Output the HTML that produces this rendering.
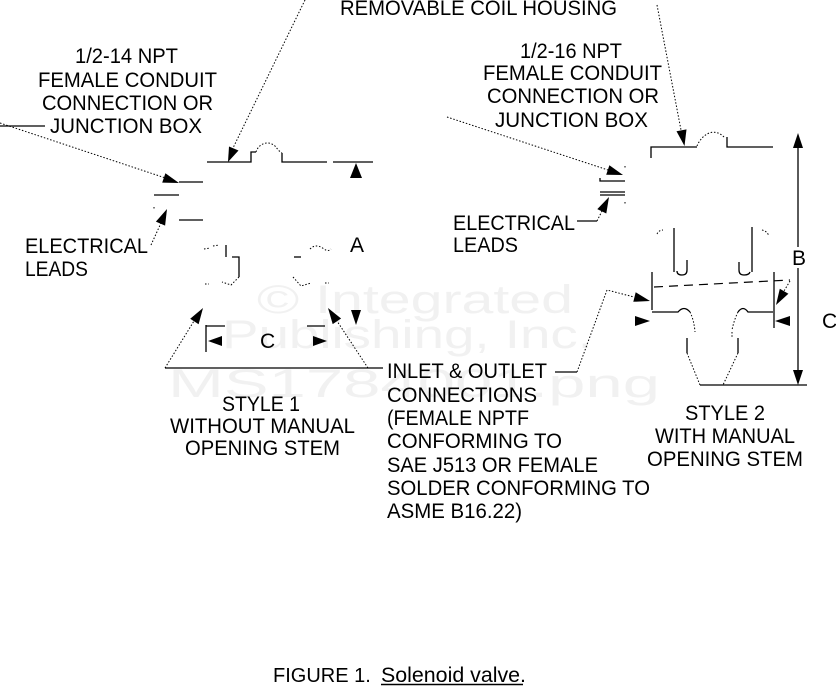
<!DOCTYPE html>
<html><head><meta charset="utf-8">
<style>
html,body{margin:0;padding:0;background:#fff;}
svg{display:block;}
.t{font-family:"Liberation Sans",Arial,Helvetica,sans-serif;}
</style></head><body>
<svg width="836" height="687" viewBox="0 0 836 687" xmlns="http://www.w3.org/2000/svg">
<rect width="836" height="687" fill="#fff"/>

<!-- watermark -->
<g class="t" fill="#f1f1f1" font-size="40">
<text x="257" y="313" textLength="316" lengthAdjust="spacingAndGlyphs">© Integrated</text>
<text x="222" y="348" textLength="371" lengthAdjust="spacingAndGlyphs">Publishing, Inc.</text>
<text x="168" y="397" textLength="492" lengthAdjust="spacingAndGlyphs">MS1784001.png</text>
</g>

<!-- solid lines -->
<g stroke="#000" stroke-width="1.3" fill="none">
<path d="M0,126H45"/>
<path d="M179,182H203"/>
<path d="M154,195H179"/>
<path d="M179,220H203"/>
<path d="M207,162H251V152H256"/>
<path d="M282,153V162H327"/>
<path d="M333,162H373"/>
<path d="M226,245V257"/>
<path d="M232,257H239V277"/>
<path d="M294,257H301"/>
<path d="M165,368H383"/>
<path d="M206,325V352"/>
<path d="M206,326H225"/>
<path d="M307,326H325"/>
<path d="M555,372H577"/>

<path d="M577,221H597"/>
<path d="M600,178V181H625"/>
<path d="M600,192H625"/>
<path d="M600,195H625"/>
<path d="M651,158V147H697"/>
<path d="M727,137V147H773"/>
<path d="M798,147V247"/>
<path d="M798,268V370"/>
<path d="M700,385H807"/>
<path d="M674,228V272"/>
<path d="M687,260V270Q687,275 682,275Q677,275 677,271"/>
<path d="M752,227V272"/>
<path d="M739,262V270Q739,275 744,275Q749,275 750,272"/>
<path d="M652,272V310"/>
<path d="M774,272V328"/>
<path d="M652,312H678Q684,305 690,312"/>
<path d="M738,312Q743,305 748,312H773"/>
<path d="M687,338V353"/>
<path d="M738,338V353"/>
<path d="M381,684.5H523" stroke-width="1.5"/>
</g>

<!-- dashed -->
<path d="M654,287L790,280" stroke="#000" stroke-width="1.2" stroke-dasharray="9 6" fill="none"/>

<!-- dotted -->
<g stroke="#000" stroke-width="1" stroke-dasharray="1.5 1.8" fill="none">
<path d="M0,123L164,177.5"/>
<path d="M305,0L233,148"/>
<path d="M151,245L161,223"/>
<path d="M256,152C259,142 272,139 278,150L282,153"/>
<path d="M204,249L210,248M213,246L219,245"/>
<path d="M239,277L231,285L222,282"/>
<path d="M205,284L209,284"/>
<path d="M310,249C315,244 320,246 324,249C327,251 329,251 331,249"/>
<path d="M293,277L301,286L311,283"/>
<path d="M325,283L329,283"/>
<path d="M165,368L194,321"/>
<path d="M368,368L337,321"/>

<path d="M447,117L608,170"/>
<path d="M597,221L602,211"/>
<path d="M657,5L681,130"/>
<path d="M697,146C701,136 713,126 724,137"/>
<path d="M657,234Q659,230 663,230"/>
<path d="M762,230Q767,231 769,236"/>
<path d="M577,372L607,290L634,297"/>
<path d="M790,281L784,291"/>
<path d="M690,312Q694,320 695,332"/>
<path d="M738,312Q734,320 732,330"/>
<path d="M687,353L700,385"/>
<path d="M738,353L723,385"/>
<path d="M625,166V168M625,202V204M732,332V337M154,207V209"/>
</g>

<!-- arrowheads -->
<g fill="#000" stroke="none">
<polygon points="179,183 165.4,173.2 162.2,182.6"/>
<polygon points="228,162 229,146.5 238.5,150.5"/>
<polygon points="167,209 165.1,225.6 155.9,221.6"/>
<polygon points="356,163 350,178 362,178"/>
<polygon points="356,325 351,310 361,310"/>
<polygon points="203,308 198.6,324.2 190.2,318.8"/>
<polygon points="328,308 341.1,318.5 332.7,324.1"/>
<polygon points="208,341 222,336 222,346"/>
<polygon points="327,341 313,336 313,346"/>

<polygon points="623,175 606.2,174.8 609.4,165.3"/>
<polygon points="609,197 606.3,213.5 597.3,209.1"/>
<polygon points="684.5,146 676.5,131.3 686.5,129.4"/>
<polygon points="798,133 793,148 803,148"/>
<polygon points="798,385 793,370 803,370"/>
<polygon points="650,301 633.3,301.8 635.7,292.2"/>
<polygon points="776,305 788.4,293.7 779.8,288.7"/>
<polygon points="650,321 635,316 635,326"/>
<polygon points="775,321 790,316 790,326"/>
</g>

<!-- text -->
<g class="t" fill="#000" font-size="21">
<text x="340" y="15" textLength="277" lengthAdjust="spacingAndGlyphs">REMOVABLE COIL HOUSING</text>

<text x="75" y="63" textLength="103" lengthAdjust="spacingAndGlyphs">1/2-14 NPT</text>
<text x="38" y="87" textLength="179" lengthAdjust="spacingAndGlyphs">FEMALE CONDUIT</text>
<text x="42" y="110" textLength="171" lengthAdjust="spacingAndGlyphs">CONNECTION OR</text>
<text x="50" y="133" textLength="152" lengthAdjust="spacingAndGlyphs">JUNCTION BOX</text>

<text x="520" y="58" textLength="102" lengthAdjust="spacingAndGlyphs">1/2-16 NPT</text>
<text x="483" y="80" textLength="179" lengthAdjust="spacingAndGlyphs">FEMALE CONDUIT</text>
<text x="487" y="103" textLength="172" lengthAdjust="spacingAndGlyphs">CONNECTION OR</text>
<text x="495" y="127" textLength="153" lengthAdjust="spacingAndGlyphs">JUNCTION BOX</text>

<text x="25" y="253" textLength="123" lengthAdjust="spacingAndGlyphs">ELECTRICAL</text>
<text x="25" y="276" textLength="63" lengthAdjust="spacingAndGlyphs">LEADS</text>

<text x="350" y="252">A</text>
<text x="260" y="348">C</text>

<text x="222" y="411" textLength="78" lengthAdjust="spacingAndGlyphs">STYLE 1</text>
<text x="170" y="433" textLength="185" lengthAdjust="spacingAndGlyphs">WITHOUT MANUAL</text>
<text x="185" y="455" textLength="155" lengthAdjust="spacingAndGlyphs">OPENING STEM</text>

<text x="387" y="378" textLength="160" lengthAdjust="spacingAndGlyphs">INLET &amp; OUTLET</text>
<text x="387" y="402" textLength="150" lengthAdjust="spacingAndGlyphs">CONNECTIONS</text>
<text x="387" y="425" textLength="142" lengthAdjust="spacingAndGlyphs">(FEMALE NPTF</text>
<text x="387" y="448" textLength="175" lengthAdjust="spacingAndGlyphs">CONFORMING TO</text>
<text x="387" y="472" textLength="211" lengthAdjust="spacingAndGlyphs">SAE J513 OR FEMALE</text>
<text x="387" y="495" textLength="263" lengthAdjust="spacingAndGlyphs">SOLDER CONFORMING TO</text>
<text x="387" y="518" textLength="135" lengthAdjust="spacingAndGlyphs">ASME B16.22)</text>

<text x="453" y="230" textLength="122" lengthAdjust="spacingAndGlyphs">ELECTRICAL</text>
<text x="453" y="252" textLength="65" lengthAdjust="spacingAndGlyphs">LEADS</text>

<text x="792" y="265">B</text>
<text x="822" y="328">C</text>

<text x="685" y="420" textLength="80" lengthAdjust="spacingAndGlyphs">STYLE 2</text>
<text x="655" y="443" textLength="140" lengthAdjust="spacingAndGlyphs">WITH MANUAL</text>
<text x="647" y="466" textLength="156" lengthAdjust="spacingAndGlyphs">OPENING STEM</text>

<text x="273" y="682" font-size="20">FIGURE 1.</text>
<text x="381" y="682" textLength="145" lengthAdjust="spacingAndGlyphs">Solenoid valve.</text>
</g>
</svg>
</body></html>
